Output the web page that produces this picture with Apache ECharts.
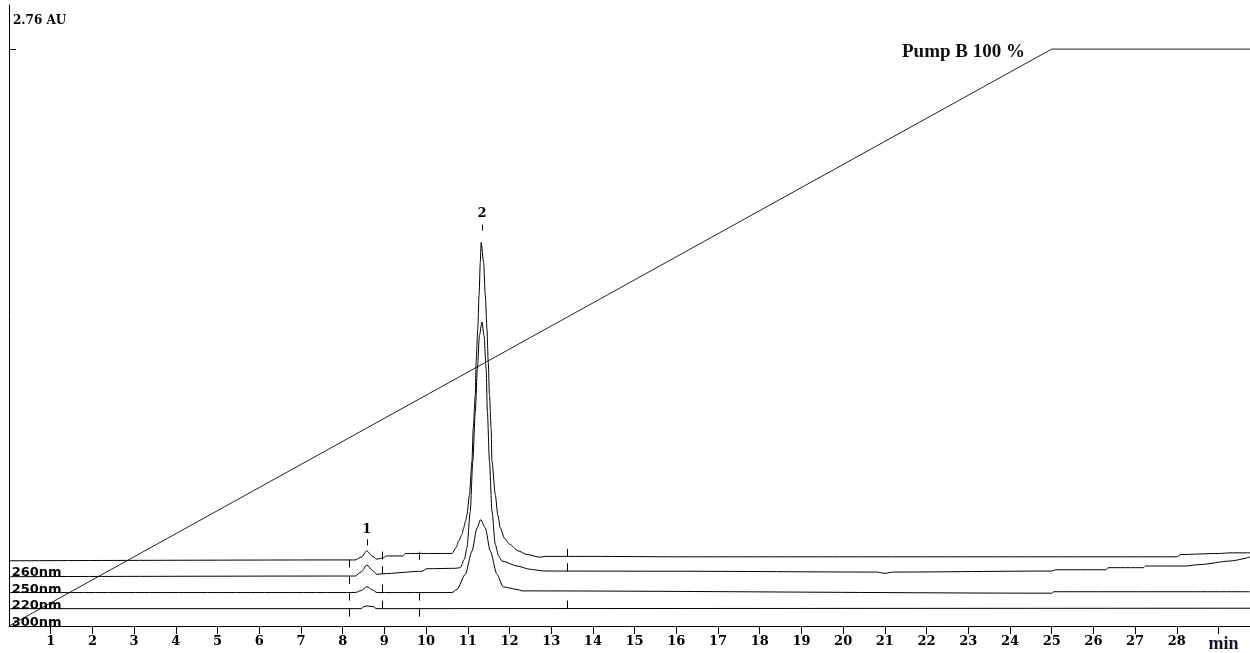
<!DOCTYPE html>
<html><head><meta charset="utf-8">
<script src="https://cdn.jsdelivr.net/npm/echarts@6/dist/echarts.min.js"></script>
<style>html,body{margin:0;padding:0;background:#fff}#c{width:1250px;height:653px}</style>
</head><body><div id="c"></div>
<script>
// ---- data ----
const xTickValues = [1,2,3,4,5,6,7,8,9,10,11,12,13,14,15,16,17,18,19,20,21,22,23,24,25,26,27,28,29];
const xTickLabels = ['1','2','3','4','5','6','7','8','9','10','11','12','13','14','15','16','17','18','19','20','21','22','23','24','25','26','27','28','min'];
const xMaxMin = 29.755;
const yMaxAU = 2.971;
const yTickAU = [2.76];
const yUnit = 'AU';

const trace260 = [[0,0.312],[7.7,0.316],[8.3,0.316],[8.45,0.33],[8.58,0.36],[8.7,0.335],[8.82,0.320],[8.97,0.326],[9.05,0.335],[9.44,0.335],[9.5,0.347],[10.62,0.347],[10.72,0.375],[10.78,0.406],[10.86,0.437],[10.90,0.469],[10.95,0.505],[10.98,0.533],[11.04,0.628],[11.10,0.787],[11.13,0.946],[11.18,1.105],[11.20,1.264],[11.24,1.422],[11.27,1.581],[11.30,1.740],[11.32,1.835],[11.38,1.740],[11.42,1.581],[11.46,1.422],[11.49,1.264],[11.52,1.105],[11.56,0.946],[11.58,0.787],[11.66,0.628],[11.72,0.530],[11.78,0.469],[11.88,0.420],[12.01,0.390],[12.2,0.360],[12.42,0.342],[12.73,0.329],[12.85,0.333],[14.0,0.333],[16.0,0.331],[28.0,0.331],[28.1,0.342],[29.0,0.347],[29.3,0.350],[29.755,0.350]];
const trace250 = [[0,0.236],[7.7,0.239],[8.3,0.239],[8.45,0.26],[8.58,0.292],[8.72,0.265],[8.82,0.247],[8.95,0.250],[9.9,0.262],[10.02,0.274],[10.7,0.276],[10.82,0.279],[10.92,0.320],[10.98,0.374],[11.06,0.549],[11.12,0.787],[11.18,1.025],[11.23,1.232],[11.28,1.390],[11.34,1.454],[11.39,1.390],[11.44,1.232],[11.47,1.025],[11.52,0.787],[11.58,0.549],[11.66,0.390],[11.74,0.335],[11.82,0.311],[12.18,0.287],[12.50,0.271],[12.85,0.263],[16.0,0.262],[20.8,0.258],[21.0,0.252],[21.2,0.258],[25.0,0.263],[25.1,0.269],[26.3,0.269],[26.35,0.279],[27.2,0.279],[27.25,0.287],[28.2,0.287],[28.56,0.294],[29.28,0.311],[29.755,0.330]];
const trace220 = [[0,0.160],[8.3,0.160],[8.45,0.17],[8.58,0.188],[8.72,0.172],[8.82,0.160],[10.62,0.160],[10.74,0.175],[10.94,0.247],[11.10,0.358],[11.22,0.469],[11.31,0.509],[11.42,0.469],[11.54,0.358],[11.70,0.247],[11.85,0.187],[12.18,0.175],[12.3,0.168],[25.0,0.157],[25.05,0.164],[29.755,0.164]];
const trace300 = [[0,0.083],[8.45,0.083],[8.5,0.092],[8.58,0.096],[8.75,0.092],[8.8,0.083],[29.755,0.085]];
const traces = [trace260, trace250, trace220, trace300];
const traceNames = ['260nm','250nm','220nm','300nm'];
const traceNameTime = [0.065,0.065,0.065,0.065];
const traceNameAU = [0.255,0.174,0.098,0.017];

const gradientTimes = [0, 25, 29.755];
const gradientPercent = [0, 100, 100];
const gradientLabel = 'Pump B 100 %';
const gradientLabelTime = 24.36;
const gradientLabelPercent = 99.5;

// integration markers: [time, AU at trace, direction (1 up, -1 down, 0 centred)]
const segmentMarks = [[8.16,0.318,-1],[8.16,0.239,-1],[8.16,0.160,-1],[8.16,0.083,-1],
  [8.95,0.318,1],[8.95,0.247,1],[8.95,0.160,1],[8.95,0.083,1],
  [9.82,0.336,0],[9.82,0.160,-1],[9.82,0.083,-1],
  [13.39,0.331,1],[13.39,0.262,1],[13.39,0.083,1]];

const peakNames = ['1','2'];
const peakTimes = [8.58, 11.34];
const peakLabelAU = [0.462, 1.975];
const peakDashAU = [0.400, 1.906];

// ---- chart ----
const chart = echarts.init(document.getElementById('c'), null, {renderer:'canvas'});
const lineSeries = traces.map((t, i) => ({
  type:'line', data:t, xAxisIndex:0, yAxisIndex:0, showSymbol:false, symbol:'none',
  smooth: i < 3 ? 0.25 : 0, smoothMonotone:'x',
  lineStyle:{color:'#000', width:1}, silent:true, z:3
}));
const gradData = gradientTimes.map((t,i) => [t, gradientPercent[i]]);
const peakData = peakNames.map((n,i)=>[peakTimes[i], peakLabelAU[i], peakDashAU[i]]);
const nameData = traceNames.map((n,i)=>[traceNameTime[i], traceNameAU[i]]);

chart.setOption({
  animation:false,
  backgroundColor:'#fff',
  grid:{left:9, right:0, top:5, bottom:24.5, containLabel:false},
  xAxis:{type:'value', min:0, max:xMaxMin, interval:1,
    axisLine:{show:true, onZero:false, lineStyle:{color:'#000', width:1}},
    axisTick:{show:true, customValues:xTickValues, inside:false, length:8, lineStyle:{color:'#000', width:1}},
    axisLabel:{show:true, customValues:xTickValues, margin:9, color:'#000',
      fontFamily:'DejaVu Serif', fontWeight:'bold', fontSize:13,
      formatter:(v)=>{const i = xTickValues.indexOf(Math.round(v)); const s = i>=0?xTickLabels[i]:''; return s==='min'?'{m|min}':s;},
      rich:{m:{fontFamily:'Liberation Serif', fontWeight:'bold', fontSize:18, color:'#15152a', padding:[0,0,2,10]}}},
    splitLine:{show:false}},
  yAxis:[{type:'value', min:0, max:yMaxAU,
    axisLine:{show:true, onZero:false, lineStyle:{color:'#000', width:1}},
    axisTick:{show:true, customValues:yTickAU, inside:true, length:7, lineStyle:{color:'#000'}},
    axisLabel:{show:true, customValues:yTickAU, inside:true, margin:4, verticalAlign:'bottom',
      padding:[0,0,22,0], color:'#000', fontFamily:'DejaVu Serif', fontWeight:'bold', fontSize:12,
      formatter:(v)=>v + ' ' + yUnit},
    minorTick:{show:false}, splitLine:{show:false}, splitArea:{show:false}},
    {type:'value', min:0, max:100*yMaxAU/yTickAU[0], show:false,
      axisLine:{show:false}, axisTick:{show:false}, axisLabel:{show:false}, splitLine:{show:false}}],
  series:[
    ...lineSeries,
    {type:'line', data:gradData, xAxisIndex:0, yAxisIndex:1, showSymbol:false, symbol:'none',
      lineStyle:{color:'#222', width:1}, silent:true, z:2},
    {type:'custom', data:[[gradientLabelTime, gradientLabelPercent]], xAxisIndex:0, yAxisIndex:1, z:5, silent:true,
      renderItem:(params, api)=>{
        const p = api.coord([api.value(0), api.value(1)]);
        return {type:'text', x:p[0], y:p[1], style:{text:gradientLabel, fill:'#111',
          font:'bold 19px "Liberation Serif"', align:'right', verticalAlign:'middle'}};
      }},
    {type:'custom', data:segmentMarks, z:4, silent:true,
      renderItem:(params, api)=>{
        const p = api.coord([api.value(0), api.value(1)]);
        const d = api.value(2);
        const x = Math.round(p[0]) + 0.5;
        let y1, y2;
        if (d > 0) { y1 = p[1]-8; y2 = p[1]; } else if (d < 0) { y1 = p[1]; y2 = p[1]+8; } else { y1 = p[1]-4; y2 = p[1]+4; }
        return {type:'line', shape:{x1:x, y1:y1, x2:x, y2:y2}, style:{stroke:'#000', lineWidth:1}};
      }},
    {type:'custom', data:peakData, z:4, silent:true,
      renderItem:(params, api)=>{
        const pl = api.coord([api.value(0), api.value(1)]);
        const pd = api.coord([api.value(0), api.value(2)]);
        const x = Math.round(pd[0]) + 0.5;
        return {type:'group', children:[
          {type:'text', x:pl[0], y:pl[1], style:{text:peakNames[params.dataIndex], fill:'#000',
            font:'bold 13px "DejaVu Serif"', align:'center', verticalAlign:'middle'}},
          {type:'line', shape:{x1:x, y1:pd[1]-3, x2:x, y2:pd[1]+3}, style:{stroke:'#000', lineWidth:1}}
        ]};
      }},
    {type:'custom', data:nameData, z:5, silent:true,
      renderItem:(params, api)=>{
        const p = api.coord([api.value(0), api.value(1)]);
        return {type:'text', x:p[0], y:p[1], style:{text:traceNames[params.dataIndex], fill:'#000',
          font:'bold 13px "DejaVu Sans"', align:'left', verticalAlign:'middle'}};
      }}
  ]
});
</script></body></html>
